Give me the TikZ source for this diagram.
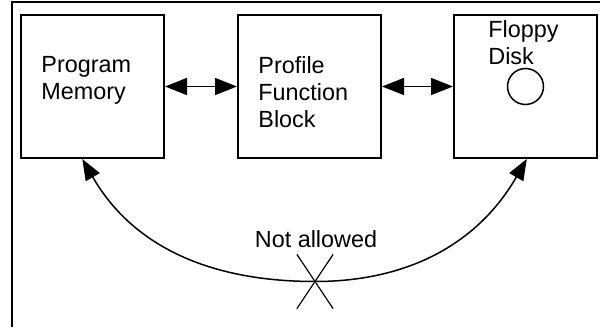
\documentclass[tikz,border=0pt]{standalone}
\usepackage{fontspec}
\setmainfont{Liberation Sans}
\usetikzlibrary{arrows.meta,positioning,shapes.misc}
\tikzset{
  block/.style={draw,line width=1pt,minimum width=71.5pt,minimum height=71.5pt,inner sep=0pt},
  blocktext/.style={align=left,inner sep=0pt,font=\fontsize{11.7}{13.5}\selectfont},
  line/.style={{Triangle[length=11pt,width=8.5pt]}-{Triangle[length=11pt,width=8.5pt]},line width=0.75pt},
  loopline/.style={-{Triangle[length=10.5pt,width=8pt]},line width=0.75pt},
  frameline/.style={line width=1pt}
}
\begin{document}
\begin{tikzpicture}[x=0.5pt,y=0.5pt]
  \useasboundingbox (0,0) rectangle (600,-327);
  % outer frame
  \coordinate (ftop) at (600,-2);
  \coordinate (fcorner) at (12,-2);
  \coordinate (fbottom) at (12,-327);
  \draw[frameline] (ftop) -- (fcorner) -- (fbottom);

  \node[block] (pmem) at (92.5,-86.5) {};
  \node[block,right=36pt of pmem] (pfb) {};
  \node[block,right=35.5pt of pfb] (disk) {};
  \node[blocktext,below right=21pt and 10.5pt of pmem.north west] (pmemText) {Program\\Memory};
  \node[blocktext,below right=21pt and 10.5pt of pfb.north west] (pfbText) {Profile\\Function\\Block};
  \node[blocktext,below right=3pt and 17.5pt of disk.north west] (diskText) {Floppy\\Disk};
  \node[circle,draw,line width=0.75pt,minimum size=18pt,inner sep=0pt] (hole) at (disk) {};

  \draw[line] (pmem) -- (pfb);
  \draw[line] (pfb) -- (disk);

  \node[draw,cross out,line width=0.6pt,minimum width=17.5pt,minimum height=26.5pt,inner sep=0pt] (nogo) at (315,-281.5) {};
  \node[blocktext,anchor=base] (nogoText) at (316,-247) {Not allowed};
  \draw[loopline] (nogo.center) to[out=180,in=-60] (pmem.-98);
  \draw[loopline] (nogo.center) to[out=0,in=-120] (disk.-89);
\end{tikzpicture}
\end{document}
